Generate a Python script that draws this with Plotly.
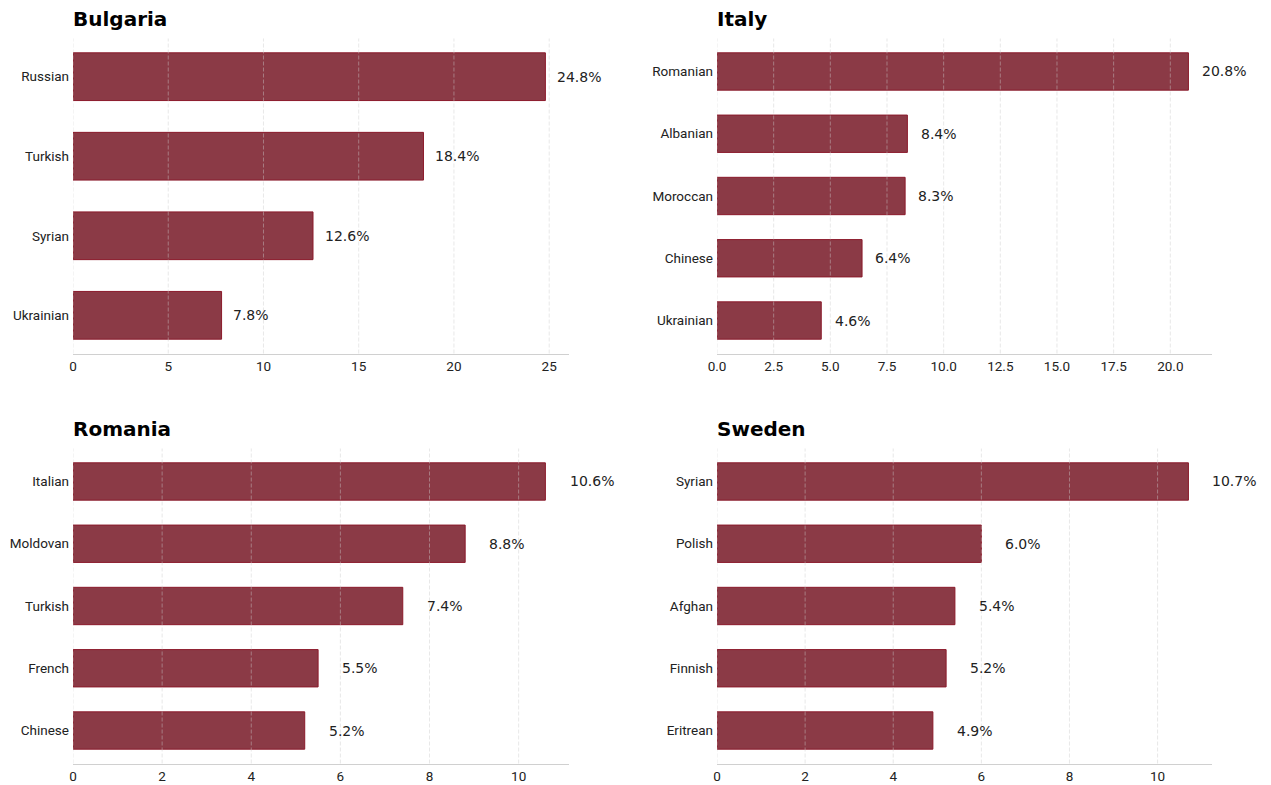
import plotly.graph_objects as go

# Largest foreign-citizen groups by country (% of foreign population)
bg_groups = ["Russian", "Turkish", "Syrian", "Ukrainian"]
bg_values = [24.8, 18.4, 12.6, 7.8]

it_groups = ["Romanian", "Albanian", "Moroccan", "Chinese", "Ukrainian"]
it_values = [20.8, 8.4, 8.3, 6.4, 4.6]

ro_groups = ["Italian", "Moldovan", "Turkish", "French", "Chinese"]
ro_values = [10.6, 8.8, 7.4, 5.5, 5.2]

se_groups = ["Syrian", "Polish", "Afghan", "Finnish", "Eritrean"]
se_values = [10.7, 6.0, 5.4, 5.2, 4.9]

W, H = 1271, 785
BAR_FILL = "#8b3a46"
BAR_EDGE = "#8b1a2b"
GRID = "rgba(205,205,205,0.45)"
AXIS = "#d0d0d0"
BAR_WIDTH = 0.6
TICK_FONT = dict(family="Roboto, 'Open Sans', sans-serif", size=13.5, color="#222")
LABEL_FONT = dict(family="DejaVu Sans, sans-serif", size=14, color="#222")
TITLE_FONT = dict(family="DejaVu Sans, sans-serif", size=20, color="#000")

panels = [
    ("Bulgaria", bg_groups, bg_values, (73, 569), (38.5, 353.5), 5),
    ("Italy", it_groups, it_values, (717, 1212), (38.5, 353.5), 2.5),
    ("Romania", ro_groups, ro_values, (73, 569), (448.5, 763.5), 2),
    ("Sweden", se_groups, se_values, (717, 1212), (448.5, 763.5), 2),
]

fig = go.Figure()
annotations = []
shapes = []
layout_axes = {}

for i, (title, groups, values, (x0, x1), (y0, y1), dtick) in enumerate(panels, start=1):
    xa = "x" if i == 1 else f"x{i}"
    ya = "y" if i == 1 else f"y{i}"
    n = len(groups)
    fig.add_trace(go.Bar(
        x=values, y=groups, orientation="h", width=BAR_WIDTH,
        marker=dict(color=BAR_FILL, line=dict(color=BAR_EDGE, width=1)),
        xaxis=xa, yaxis=ya, showlegend=False, hoverinfo="x+y",
    ))
    xmax = max(values) * 1.05
    # 5% padding around the span covered by the bars
    lo, hi = -BAR_WIDTH / 2, n - 1 + BAR_WIDTH / 2
    pad = 0.05 * (hi - lo)
    layout_axes[f"xaxis{'' if i == 1 else i}"] = dict(
        domain=[x0 / W, x1 / W], anchor=ya, range=[0, xmax],
        dtick=dtick, tick0=0, showgrid=False, zeroline=False,
        showline=True, linecolor=AXIS, linewidth=1.3,
        ticks="", tickfont=TICK_FONT, fixedrange=True, automargin=False,
        tickformat=".1f" if dtick == 2.5 else "d",
    )
    layout_axes[f"yaxis{'' if i == 1 else i}"] = dict(
        domain=[1 - y1 / H, 1 - y0 / H], anchor=xa, type="category",
        categoryorder="array", categoryarray=groups,
        range=[hi + pad, lo - pad], showgrid=False, zeroline=False,
        showline=False, ticks="", tickfont=TICK_FONT, ticklabelstandoff=3,
        fixedrange=True, automargin=False,
    )
    # dashed vertical grid drawn over the bars at every tick
    k = 0
    while k * dtick <= xmax:
        shapes.append(dict(
            type="line", xref=xa, yref=f"{ya} domain", x0=k * dtick, x1=k * dtick,
            y0=0, y1=1, layer="above", line=dict(color=GRID, width=1, dash="4px,2px"),
        ))
        k += 1
    for g, v in zip(groups, values):
        annotations.append(dict(
            x=v + 0.5, y=g, xref=xa, yref=ya, text=f"{v:.1f}%",
            showarrow=False, xanchor="left", yanchor="middle", font=LABEL_FONT,
        ))
    annotations.append(dict(
        x=x0 / W, y=1 - (y0 - 19.5) / H, xref="paper", yref="paper",
        text=f"<b>{title}</b>", showarrow=False, xanchor="left", yanchor="middle",
        xshift=-2, font=TITLE_FONT,
    ))

fig.update_layout(
    width=W, height=H, margin=dict(l=0, r=0, t=0, b=0),
    paper_bgcolor="white", plot_bgcolor="white",
    annotations=annotations, shapes=shapes, **layout_axes,
)

fig.write_html("out.html")
